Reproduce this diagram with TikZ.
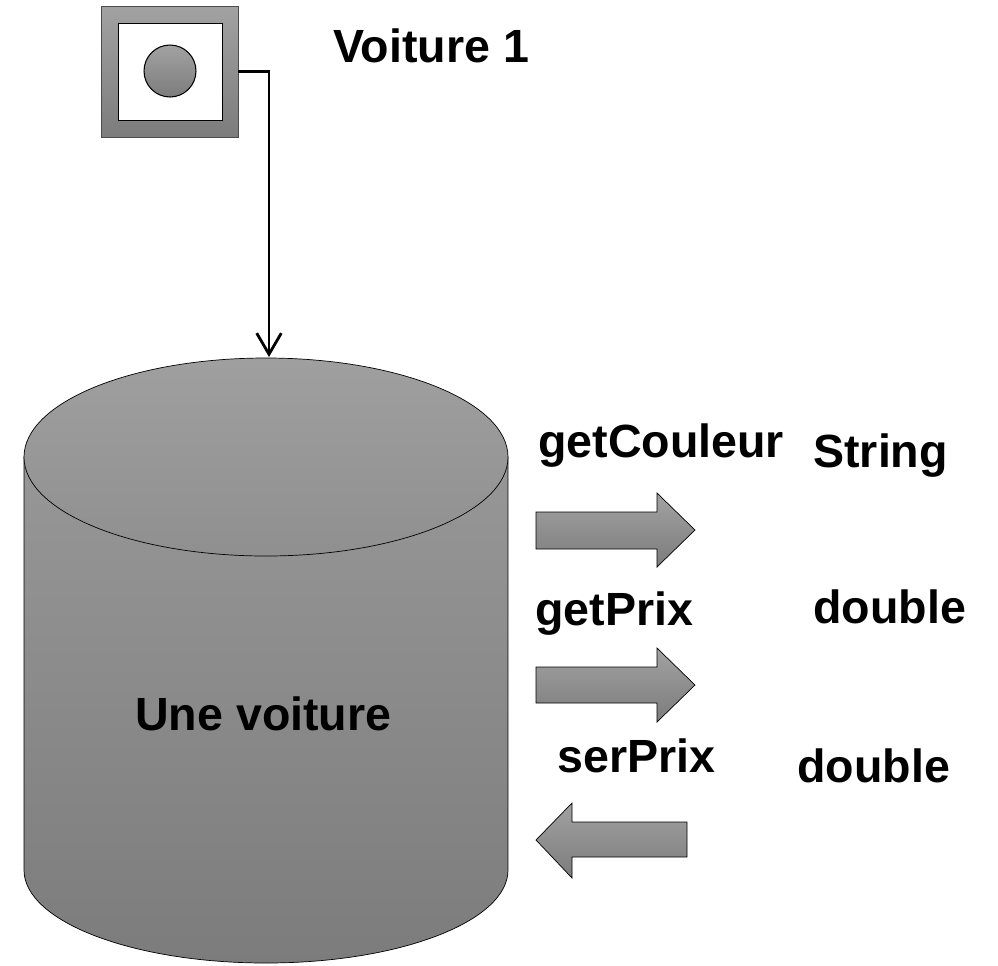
\documentclass[tikz,border=0pt]{standalone}
\usepackage{fontspec}
\setmainfont{Liberation Sans}
\usepackage{tikz}
\usetikzlibrary{arrows.meta,positioning}
\definecolor{lightGray}{HTML}{A2A2A2}
\definecolor{midGray}{HTML}{979797}
\definecolor{darkGray}{HTML}{7C7C7C}
\tikzstyle{label} = [anchor=base west, inner sep=0pt, font=\fontsize{26.5}{30}\selectfont\bfseries]
\tikzstyle{iconBox} = [rectangle, draw=black!70, top color=lightGray, bottom color=darkGray, minimum width=2.74cm, minimum height=2.62cm]
\tikzstyle{iconInner} = [rectangle, draw=black, fill=white, minimum width=2.08cm, minimum height=1.94cm]
\tikzstyle{iconDot} = [circle, draw=black, semithick, top color=lightGray, bottom color=darkGray, minimum size=1.04cm]
\tikzstyle{lineArrow} = [line width=1.6pt, -{Straight Barb[length=12pt,width=14pt]}]
\tikzstyle{blockArrow} = [draw=black, top color=lightGray, bottom color=darkGray]
\tikzstyle{cylBody} = [draw=black, top color=midGray, bottom color=darkGray]
\tikzstyle{cylTop} = [draw=black, top color=midGray!92!white, bottom color=midGray!95!black]

\begin{document}
\begin{tikzpicture}[x=0.02cm, y=-0.02cm]
    \useasboundingbox (0,0) rectangle (998,965);
    % the reference box
    \node (icon) [iconBox] at (169.5,71.5) {};
    \node (iconHole) [iconInner] at (170,71.5) {};
    \node (iconDot) [iconDot] at (170,71) {};
    \node (ref) [label] at (333,62) {Voiture 1};
    % the object
    \draw [cylBody] (24,457) -- (24,870) arc [start angle=180, end angle=360, x radius=242, y radius=-93] -- (508,457) -- cycle;
    \draw [cylTop] (266,457) ellipse [x radius=242, y radius=99];
    \coordinate (cyltop) at (269,357);
    \node (obj) [label] at (135,730) {Une voiture};
    \draw [lineArrow] (icon.east) -| (cyltop);
    % methods
    \node (m1) [label] at (538,457) {getCouleur};
    \node (t1) [label] at (813,467) {String};
    \draw [blockArrow] (536,512) -- (657,512) -- (657,493) -- (695,530) -- (657,567) -- (657,549) -- (536,549) -- cycle;
    \node (m2) [label] at (535,625) {getPrix};
    \node (t2) [label] at (813,623) {double};
    \draw [blockArrow] (536,667) -- (657,667) -- (657,648) -- (695,685) -- (657,722) -- (657,703) -- (536,703) -- cycle;
    \node (m3) [label] at (557,772) {serPrix};
    \node (t3) [label] at (797,782) {double};
    \draw [blockArrow] (687,822) -- (572,822) -- (572,803) -- (536,840) -- (572,878) -- (572,857) -- (687,857) -- cycle;
\end{tikzpicture}
\end{document}
